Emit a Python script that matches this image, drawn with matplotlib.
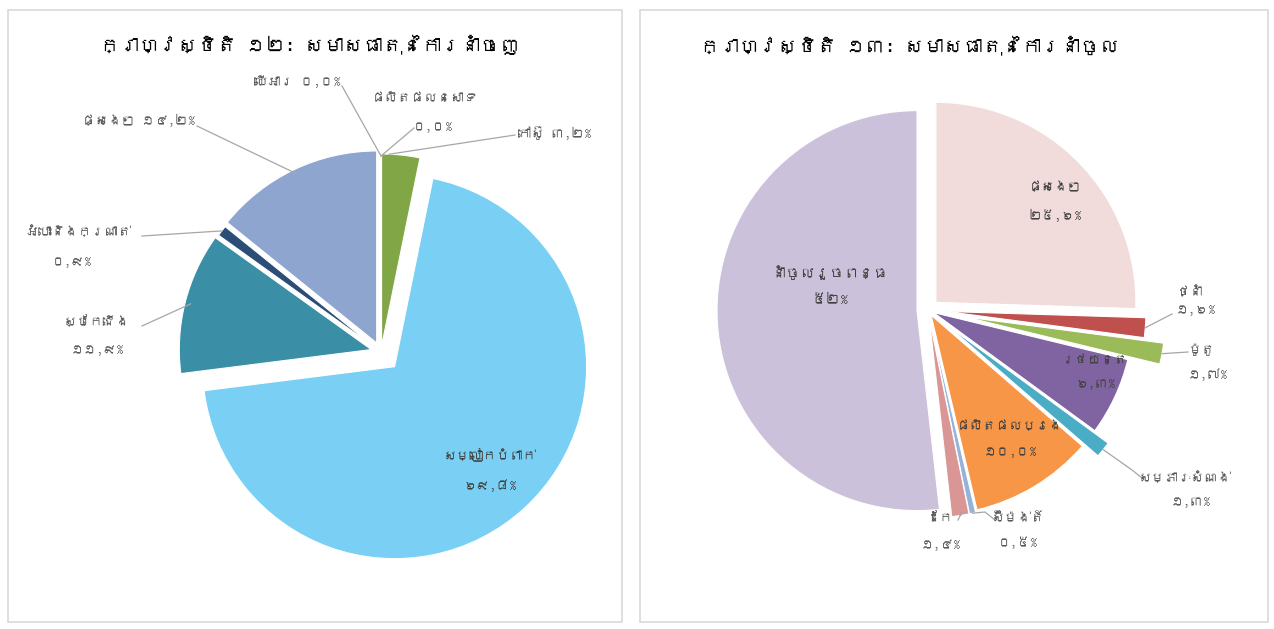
import numpy as np
import matplotlib
matplotlib.use("Agg")
import matplotlib.pyplot as plt
from matplotlib import font_manager as fm
from matplotlib.patches import Rectangle

# ---------------- data ----------------
exp_title = "ក្រាហ្វស្ថិតិ ១២: សមាសធាតុនៃការនាំចេញ"
imp_title = "ក្រាហ្វស្ថិតិ ១៣: សមាសធាតុនៃការនាំចូល"

exp_labels = ["ផលិតផលនេសាទ", "កៅស៊ូ", "សម្លៀកបំពាក់", "ស្បែកជើង",
              "អំបោះនិងក្រណាត់", "ផ្សេងៗ", "ឈើអារ"]
exp_values = [0.0, 3.2, 69.8, 11.9, 0.9, 14.2, 0.0]
exp_decimals = [1, 1, 1, 1, 1, 1, 1]

imp_labels = ["ផ្សេងៗ", "ថ្នាំ", "ម៉ូតូ", "រថយន្ត", "សម្ភារៈសំណង់",
              "ផលិតផលប្រេង", "ស៊ីម៉ង់ត៍", "ដែក", "នាំចូលរួចពន្ធ"]
imp_values = [25.6, 1.6, 1.7, 6.3, 1.3, 10.0, 0.5, 1.4, 52.0]
imp_decimals = [1, 1, 1, 1, 1, 1, 1, 1, 0]

# ---------------- styles ----------------
exp_colors = ["#4f81bd", "#80a646", "#79cff4", "#3a8ea5", "#2c4d75", "#8ea5d0", "#c0504d"]
imp_colors = ["#f2dcdb", "#c0504d", "#9bbb59", "#8064a2", "#4bacc6",
              "#f79646", "#95b3d7", "#d99694", "#ccc1da"]
exp_explode = [4, 6, 20, 10, 8, 10, 4]
imp_explode = [11, 18, 38, 6, 24, 6, 8, 8, 11]

W, H = 1274, 629

# font with Khmer glyphs if any is installed
khmer_family = None
try:
    from fontTools.ttLib import TTFont
    for f in fm.fontManager.ttflist:
        try:
            tt = TTFont(f.fname, fontNumber=0, lazy=True)
            cm = tt.getBestCmap()
            if cm and 0x1780 in cm:
                khmer_family = f.name
                break
        except Exception:
            pass
except Exception:
    pass
FAM = ([khmer_family] if khmer_family else []) + ["DejaVu Sans"]
plt.rcParams["font.family"] = FAM

KH = str.maketrans("0123456789.", "០១២៣៤៥៦៧៨៩,")


def pct(v, d):
    return (f"{v:.{d}f}%").translate(KH)


def Y(y):
    return H - y


fig = plt.figure(figsize=(W / 100, H / 100), dpi=100)
ax = fig.add_axes([0, 0, 1, 1])

# panel borders
for x0, x1 in [(8, 622), (640, 1268)]:
    ax.add_patch(Rectangle((x0, Y(622)), x1 - x0, 612, fill=False,
                           edgecolor="#d9d9d9", linewidth=1.2))

# titles
ax.text(100, Y(45), exp_title, fontsize=14, color="#000000", va="center", ha="left")
ax.text(700, Y(45), imp_title, fontsize=14, color="#000000", va="center", ha="left")

# pies
wexp, _ = ax.pie(exp_values, colors=exp_colors, startangle=90, counterclock=False,
                 explode=exp_explode, radius=192, center=(381, Y(352)), frame=True,
                 wedgeprops=dict(edgecolor="white", linewidth=0.8))
wimp, _ = ax.pie(imp_values, colors=imp_colors, startangle=90, counterclock=False,
                 explode=imp_explode, radius=200, center=(928, Y(310)), frame=True,
                 wedgeprops=dict(edgecolor="white", linewidth=0.8))

LBL = "#595959"
LINE = "#a6a6a6"


def anchor(w, t=0.5, rf=1.0):
    th = np.deg2rad(w.theta1 + t * (w.theta2 - w.theta1))
    cx, cy = w.center
    return cx + rf * w.r * np.cos(th), cy + rf * w.r * np.sin(th)


def label(name, p, npos, ppos, fs=9.5, color=LBL, ha="center", one_line=False):
    if one_line:
        ax.text(npos[0], Y(npos[1]), f"{name} {p}", fontsize=fs, color=color,
                ha=ha, va="center")
    else:
        ax.text(npos[0], Y(npos[1]), name, fontsize=fs, color=color, ha="center", va="center")
        ax.text(ppos[0], Y(ppos[1]), p, fontsize=fs, color=color, ha="center", va="center")


def leader(start, w, t=0.5, rf=1.0, elbow=None):
    ex, ey = anchor(w, t, rf)
    xs = [start[0]]
    ys = [Y(start[1])]
    if elbow is not None:
        xs.append(elbow[0]); ys.append(Y(elbow[1]))
    xs.append(ex); ys.append(ey)
    ax.plot(xs, ys, color=LINE, linewidth=0.9)


# ---- export labels ----
ep = [pct(v, d) for v, d in zip(exp_values, exp_decimals)]
label(exp_labels[0], ep[0], (425, 98), (433, 127))
leader((414, 128), wexp[0], 0.5, 1.0)
label(exp_labels[1], ep[1], (518, 133), None, ha="left", one_line=True)
leader((515, 135), wexp[1], 0.8, 1.0)
label(exp_labels[2], ep[2], (490, 455), (490, 486), color="#404040")
label(exp_labels[3], ep[3], (97, 322), (97, 350))
leader((142, 326), wexp[3], 0.5, 0.97)
label(exp_labels[4], ep[4], (78, 232), (72, 262))
leader((142, 236), wexp[4], 0.5, 1.0, elbow=(142, 236))
label(exp_labels[5], ep[5], (195, 120), None, ha="right", one_line=True)
leader((197, 126), wexp[5], 0.5, 0.98)
label(exp_labels[6], ep[6], (340, 82), None, ha="right", one_line=True)
leader((342, 86), wexp[6], 0.5, 1.0)

# ---- import labels ----
ip = [pct(v, d) for v, d in zip(imp_values, imp_decimals)]
label(imp_labels[0], ip[0], (1055, 187), (1055, 215), color="#404040")
label(imp_labels[1], ip[1], (1190, 292), (1195, 310))
leader((1172, 314), wimp[1], 0.5, 1.0)
label(imp_labels[2], ip[2], (1202, 350), (1207, 375))
leader((1188, 352), wimp[2], 0.5, 1.0)
label(imp_labels[3], ip[3], (1095, 360), (1095, 384), color="#404040")
label(imp_labels[4], ip[4], (1185, 478), (1190, 502))
leader((1142, 478), wimp[4], 0.5, 1.0, elbow=(1132, 470))
label(imp_labels[5], ip[5], (1010, 426), (1010, 452), color="#404040")
label(imp_labels[6], ip[6], (1018, 518), (1018, 543))
leader((995, 520), wimp[6], 0.5, 1.0, elbow=(985, 512))
label(imp_labels[7], ip[7], (940, 518), (940, 545))
leader((958, 520), wimp[7], 0.5, 1.0, elbow=(962, 512))
label(imp_labels[8], ip[8], (830, 273), (830, 300), fs=10.5, color="#404040")

ax.set_xlim(0, W)
ax.set_ylim(0, H)
ax.axis("off")
fig.savefig("out.png", dpi=100, facecolor="white")
